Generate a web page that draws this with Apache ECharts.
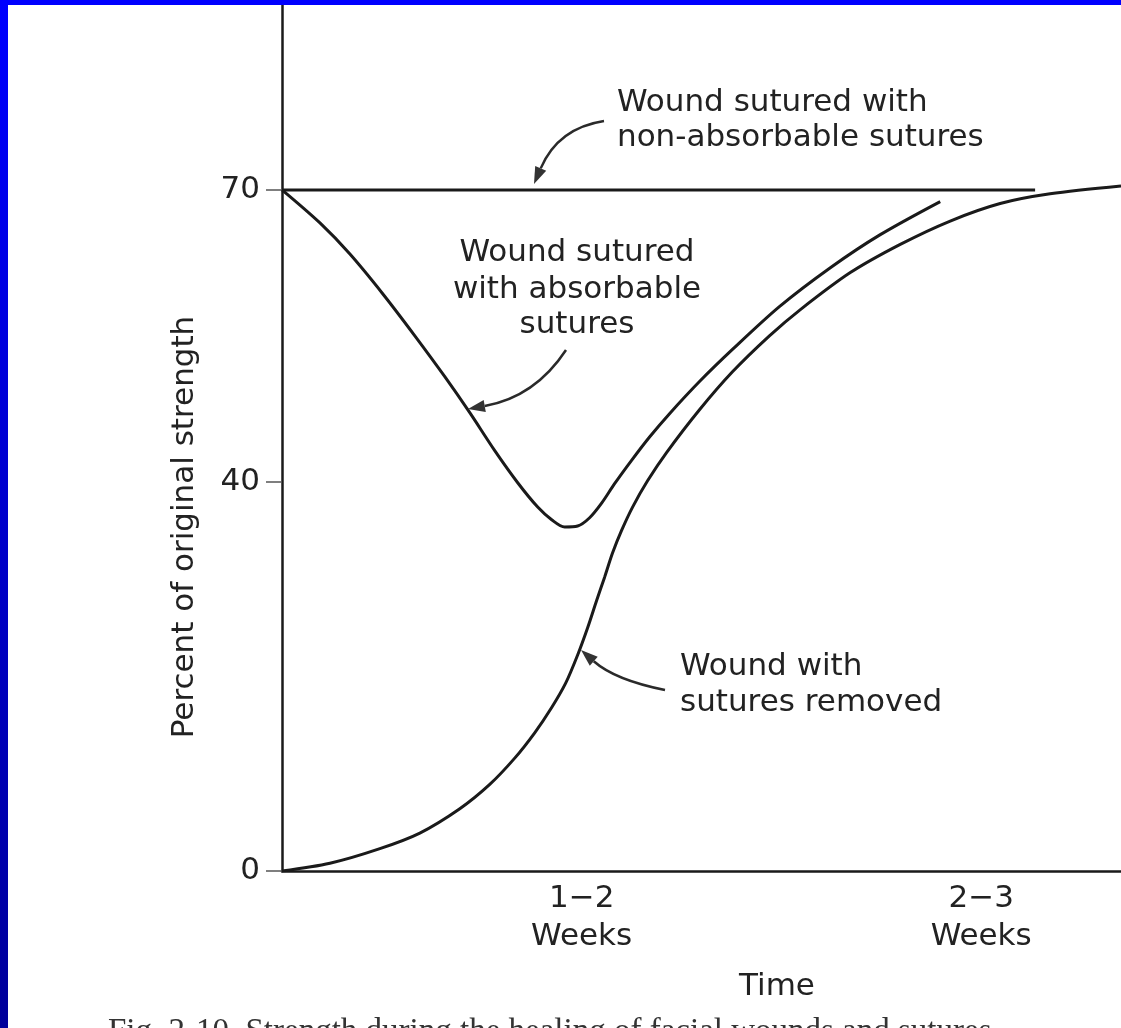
<!DOCTYPE html>
<html>
<head>
<meta charset="utf-8">
<script src="https://cdn.jsdelivr.net/npm/echarts@6/dist/echarts.min.js"></script>
<style>
html,body{margin:0;padding:0;background:#fff;}
#chart{width:1121px;height:1028px;}
</style>
</head>
<body>
<div id="chart"></div>
<script>
// ---- data (x = time position along the axis, y = percent of original strength)
const xTickValues = [3, 7];
const xTickLabels = ['1\u22122\nWeeks', '2\u22123\nWeeks'];
const yTickValues = [0, 40, 70];

const nonAbsorbableX = [0, 7.54];
const nonAbsorbableY = [70, 70];

const absorbableX = [0, 0.38, 0.68, 1.01, 1.33, 1.63, 1.88, 2.13, 2.36, 2.56, 2.70, 2.83, 2.96, 3.08, 3.20, 3.33, 3.50, 3.68, 3.88, 4.18, 4.51, 4.98, 5.49, 5.99, 6.59];
const absorbableY = [70, 66.6, 63.4, 59.3, 55.0, 50.8, 47.1, 43.2, 39.9, 37.4, 36.1, 35.35, 35.45, 36.3, 37.8, 39.8, 42.2, 44.6, 47.0, 50.3, 53.6, 58.0, 62.0, 65.4, 68.8];

const removedX = [0, 0.48, 0.98, 1.38, 1.78, 2.08, 2.33, 2.53, 2.70, 2.84, 2.96, 3.06, 3.15, 3.23, 3.31, 3.40, 3.51, 3.66, 3.85, 4.18, 4.51, 4.88, 5.19, 5.69, 6.19, 6.69, 7.19, 7.69, 8.40];
const removedY = [0, 0.8, 2.3, 3.9, 6.4, 8.9, 11.6, 14.2, 16.8, 19.3, 22.2, 25.0, 27.8, 30.2, 32.7, 35.0, 37.4, 40.1, 43.0, 47.4, 51.3, 55.0, 57.7, 61.5, 64.4, 66.8, 68.6, 69.6, 70.4];

const zip = (xs, ys) => xs.map((x, i) => [x, ys[i]]);

const FONT = 'DejaVu Sans';
const INK = '#222';
const LINE = '#1a1a1a';

function arrow(sx, sy, cx, cy, ex, ey) {
  const dx = ex - cx, dy = ey - cy, L = Math.hypot(dx, dy);
  const ux = dx / L, uy = dy / L, len = 17, hw = 6;
  const bx = ex - ux * len, by = ey - uy * len;
  return [
    { type: 'bezierCurve', z: 50, shape: { x1: sx, y1: sy, cpx1: cx, cpy1: cy, x2: bx, y2: by },
      style: { stroke: '#2a2a2a', lineWidth: 2.5, fill: null } },
    { type: 'polygon', z: 50, shape: { points: [[ex, ey], [bx - uy * hw, by + ux * hw], [bx + uy * hw, by - ux * hw]] },
      style: { fill: '#333' } }
  ];
}
function txt(text, x, y, align) {
  return { type: 'text', z: 50, x: x, y: y,
    style: { text: text, fill: INK, fontFamily: FONT, fontSize: 31, align: align || 'left', verticalAlign: 'middle' } };
}

const chart = echarts.init(document.getElementById('chart'), null, { renderer: 'canvas' });
chart.setOption({
  animation: false,
  backgroundColor: '#ffffff',
  grid: { left: 282, right: 0, top: 5, bottom: 157 },
  xAxis: {
    type: 'value', min: 0, max: 8.4,
    name: 'Time', nameLocation: 'middle', nameGap: 100,
    nameTextStyle: { fontFamily: FONT, fontSize: 31, color: INK, padding: [0, 0, 0, 151] },
    axisLine: { show: true, onZero: false, lineStyle: { color: LINE, width: 2.5 } },
    axisTick: { show: false },
    splitLine: { show: false },
    axisLabel: {
      customValues: xTickValues,
      formatter: v => xTickLabels[xTickValues.indexOf(v)] || '',
      fontFamily: FONT, fontSize: 31, color: INK, lineHeight: 38, margin: 9
    }
  },
  yAxis: {
    type: 'value', min: 0, max: 89,
    name: 'Percent of original strength', nameLocation: 'middle', nameGap: 82,
    nameTextStyle: { fontFamily: FONT, fontSize: 31, color: INK, padding: [0, 178, 0, 0] },
    axisLine: { show: true, onZero: false, lineStyle: { color: LINE, width: 2.5 } },
    axisTick: { show: true, customValues: yTickValues, length: 16, lineStyle: { color: '#555', width: 1.5 } },
    splitLine: { show: false },
    axisLabel: { customValues: yTickValues, fontFamily: FONT, fontSize: 31, color: INK, margin: 22 }
  },
  series: [
    { name: 'Wound sutured with non-absorbable sutures', type: 'line', data: zip(nonAbsorbableX, nonAbsorbableY),
      showSymbol: false, lineStyle: { color: LINE, width: 3 } },
    { name: 'Wound sutured with absorbable sutures', type: 'line', data: zip(absorbableX, absorbableY),
      smooth: 0.3, showSymbol: false, lineStyle: { color: LINE, width: 3 } },
    { name: 'Wound with sutures removed', type: 'line', data: zip(removedX, removedY),
      smooth: 0.3, showSymbol: false, lineStyle: { color: LINE, width: 3 } }
  ],
  graphic: [
    txt('Wound sutured with', 617, 103),
    txt('non-absorbable sutures', 617, 138),
    ...arrow(604, 121, 558, 128, 534, 184),
    txt('Wound sutured', 577, 253, 'center'),
    txt('with absorbable', 577, 290, 'center'),
    txt('sutures', 577, 325, 'center'),
    ...arrow(566, 350, 535, 397, 468, 409),
    txt('Wound with', 680, 667),
    txt('sutures removed', 680, 703),
    ...arrow(665, 690, 615, 680, 581, 650),
    { type: 'text', z: 50, x: 108, y: 1016,
      style: { text: 'Fig. 2-10  Strength during the healing of facial wounds and sutures', fill: '#333',
               fontFamily: 'Liberation Serif', fontSize: 33, align: 'left', verticalAlign: 'top' } },
    { type: 'rect', z: 100, shape: { x: 0, y: 0, width: 8, height: 1028 },
      style: { fill: new echarts.graphic.LinearGradient(0, 0, 0, 1, [{ offset: 0, color: '#0000ff' }, { offset: 1, color: '#00009a' }]) } },
    { type: 'rect', z: 100, shape: { x: 0, y: 0, width: 1121, height: 5 }, style: { fill: '#0000ff' } }
  ]
});
</script>
</body>
</html>
